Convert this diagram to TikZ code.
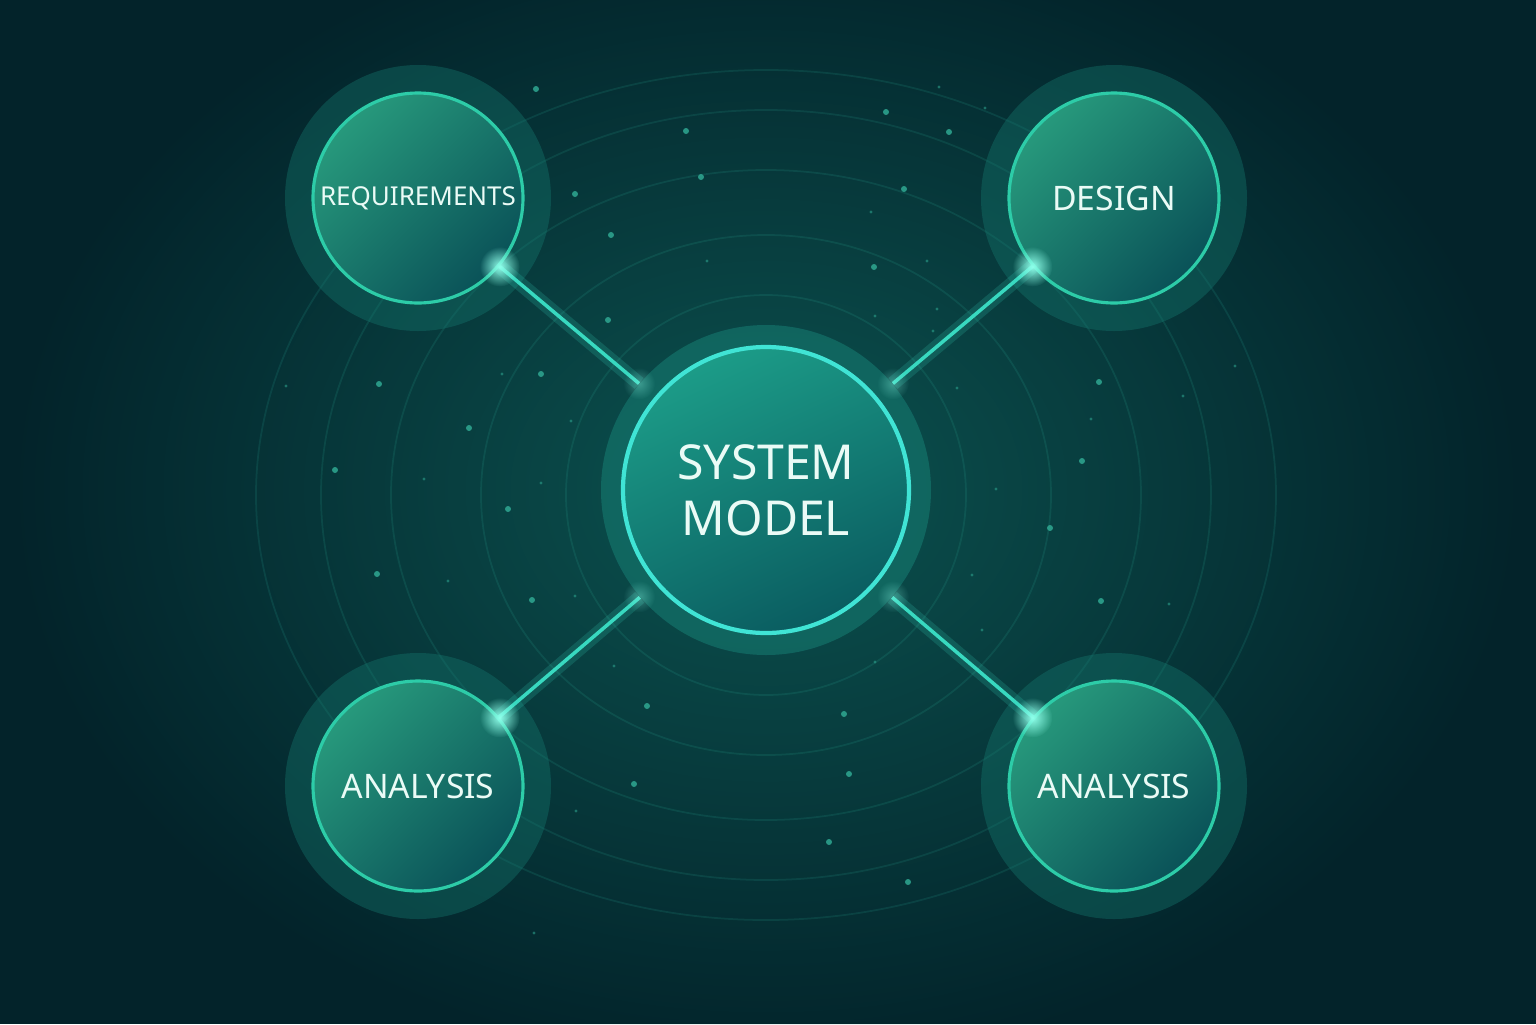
\documentclass[tikz,border=0pt]{standalone}
\usepackage{fontspec}
\setmainfont{Noto Sans}
\usepackage{tikz}
\usetikzlibrary{positioning, calc, fadings}

\definecolor{bgdark}{HTML}{03232A}
\definecolor{bgmid}{HTML}{0C5350}
\definecolor{halofill}{HTML}{157A70}
\definecolor{satlight}{HTML}{27997C}
\definecolor{satdark}{HTML}{0A5258}
\definecolor{satring}{HTML}{2DCCA8}
\definecolor{corelight}{HTML}{1C9C88}
\definecolor{coredark}{HTML}{0A5C60}
\definecolor{corering}{HTML}{40E4D5}
\definecolor{linkc}{HTML}{38D9C0}
\definecolor{sparkc}{HTML}{8FFFEA}
\definecolor{dotc}{HTML}{2FA892}
\definecolor{ringc}{HTML}{2AA894}
\definecolor{labeltext}{HTML}{EAFBF6}

\tikzfading[name=glowfade, inner color=transparent!0, outer color=transparent!100]

\begin{document}
\begin{tikzpicture}[
    font=\fontsize{9.6}{11}\selectfont,
    sat/.style={circle, minimum size=2.1cm, inner sep=0pt, draw=satring, line width=0.9pt, top color=satlight, bottom color=satdark, shading angle=45, text=labeltext, align=center},
    core/.style={circle, minimum size=2.86cm, inner sep=0pt, draw=corering, line width=1.2pt, top color=corelight, bottom color=coredark, shading angle=25, text=labeltext, align=center, font=\fontsize{13.7}{16}\selectfont},
    sathalo/.style={circle, minimum size=2.66cm, inner sep=0pt, fill=halofill, fill opacity=0.38},
    corehalo/.style={circle, minimum size=3.3cm, inner sep=0pt, fill=halofill, fill opacity=0.6},
    ring/.style={draw=ringc, line width=0.5pt, draw opacity=0.16},
    link/.style={draw=linkc, line width=1pt},
    linkglow/.style={draw=linkc, line width=4pt, draw opacity=0.18},
    spark/.style={fill=sparkc, path fading=glowfade},
    bigdot/.style={fill=dotc, fill opacity=0.85},
    smalldot/.style={fill=dotc, fill opacity=0.55}
]

\useasboundingbox (-7.66,-5.34) rectangle (7.70,4.90);

% Background
\fill[bgdark] (-7.66,-5.34) rectangle (7.70,4.90);
\fill[bgmid, path fading=glowfade] (0,0) ellipse (7.6 and 5.8);

% Rings
\foreach \rx/\ry in {2.0/2.0, 2.85/2.6, 3.75/3.25, 4.45/3.85, 5.1/4.25}
    \draw[ring] (0,-0.05) ellipse ({\rx} and {\ry});

% Dots
\foreach \x/\y in {-2.30/4.01, -0.80/3.59, 1.20/3.78, 1.83/3.58, -1.91/2.96, -0.65/3.13, 1.38/3.01, -1.55/2.55, 1.08/2.23, -1.58/1.70, -3.87/1.06, -2.97/0.62, -2.25/1.16, -4.31/0.20, -2.58/-0.19, -3.89/-0.84, -2.34/-1.10, 3.33/1.08, 3.16/0.29, 2.84/-0.38, 3.35/-1.11, -1.19/-2.16, -1.32/-2.94, 0.78/-2.24, 0.83/-2.84, 0.63/-3.52, 1.42/-3.92}
    \fill[bigdot] (\x,\y) circle (0.03);
\foreach \x/\y in {1.73/4.03, 2.19/3.82, 1.05/2.78, -0.59/2.29, 1.61/2.29, 1.71/1.81, 1.09/1.74, 1.67/1.59, -4.80/1.04, -2.64/1.16, -1.95/0.69, -3.42/0.11, -2.25/0.07, -3.18/-0.91, -1.91/-1.06, 2.30/0.01, 2.06/-0.85, 2.16/-1.40, 1.91/1.02, 3.25/0.71, 4.17/0.94, 4.69/1.24, 4.03/-1.14, -1.52/-1.76, -1.90/-3.21, 1.09/-1.72, -2.32/-4.43}
    \fill[smalldot] (\x,\y) circle (0.016);

% Halos
\node[corehalo] (syshalo) at (0,0) {};
\node[sathalo] (reqhalo) at (-3.48,2.92) {};
\node[sathalo] (deshalo) at (3.48,2.92) {};
\node[sathalo] (anlhalo) at (-3.48,-2.96) {};
\node[sathalo] (anrhalo) at (3.48,-2.96) {};

% Links
\foreach \h in {reqhalo, deshalo, anlhalo, anrhalo} {
    \draw[linkglow] (\h.center) -- (syshalo);
    \draw[link] (\h.center) -- (syshalo);
}

% Nodes
\node[core] (sys) at (syshalo) {SYSTEM\\MODEL};
\node[sat, font=\fontsize{7.4}{9}\selectfont] (req) at (reqhalo) {REQUIREMENTS};
\node[sat] (des) at (deshalo) {DESIGN};
\node[sat] (anl) at (anlhalo) {ANALYSIS};
\node[sat] (anr) at (anrhalo) {ANALYSIS};

% Sparks
\foreach \n/\a in {req/-40, des/-140, anl/40, anr/140}
    \fill[spark] (\n.\a) circle (0.2);
\foreach \a in {140, 40, -140, -40}
    \fill[spark, fill opacity=0.35] (syshalo.\a) circle (0.16);

\end{tikzpicture}
\end{document}
